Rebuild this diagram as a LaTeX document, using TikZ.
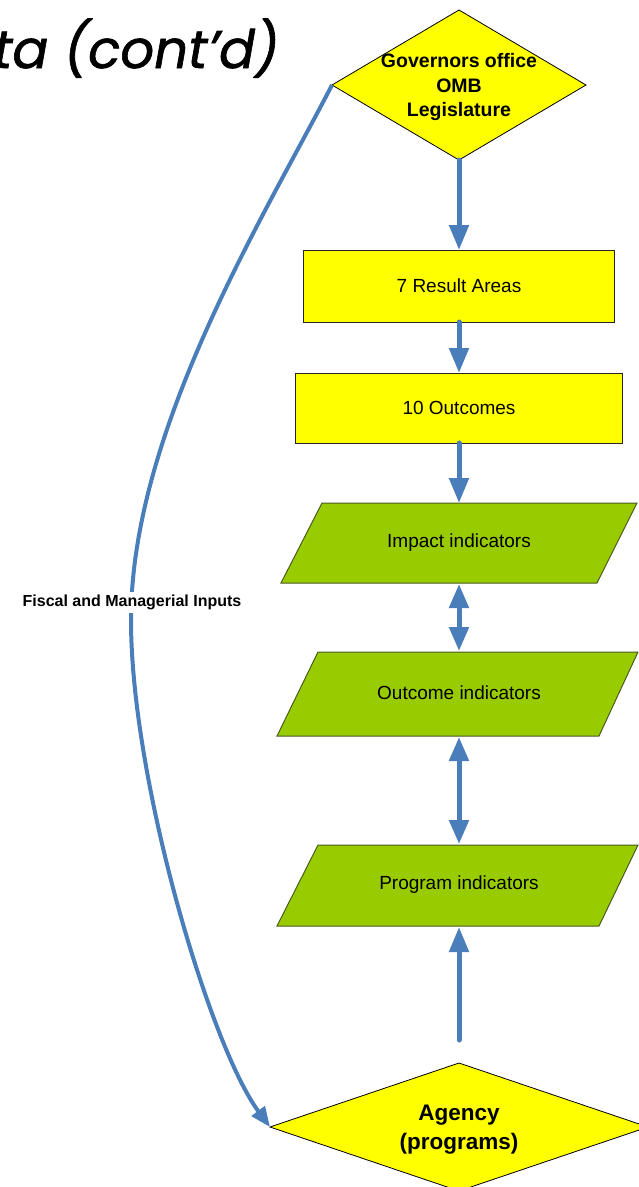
\documentclass[tikz,border=0pt]{standalone}
\usepackage{fontspec}
\setmainfont{Liberation Sans}
\newfontfamily\titlefont{Poppins}[FakeBold=1.2]
\usetikzlibrary{shapes.geometric,arrows.meta}
\definecolor{flowblue}{HTML}{4A7EBB}
\definecolor{boxyellow}{HTML}{FFFF00}
\definecolor{boxgreen}{HTML}{99CC00}
\definecolor{greenedge}{HTML}{4B5A1E}
\begin{document}
\begin{tikzpicture}[x=1pt,y=-1pt,
  ydiamond/.style={diamond, draw=black, line width=0.8pt, fill=boxyellow, inner sep=0pt, outer sep=0pt},
  ybox/.style={rectangle, draw=black!85, line width=1pt, fill=boxyellow, inner sep=0pt, outer sep=0pt, font=\fontsize{19}{23}\selectfont},
  gpar/.style={draw=greenedge, line width=1pt, fill=boxgreen},
  lbl/.style={font=\fontsize{19}{23}\selectfont, text=black},
  flow/.style={draw=flowblue, line width=5pt, line cap=round, -{Triangle[length=25pt,width=19pt]}},
  flowtwo/.style={draw=flowblue, line width=5pt, {Triangle[length=24pt,width=19pt]}-{Triangle[length=24pt,width=19pt]}},
  flowcurve/.style={draw=flowblue, line width=4pt, -{Triangle[length=20pt,width=16pt]}},
]
\useasboundingbox (0,0) rectangle (639,1187);
\node[anchor=base west, font=\titlefont\itshape\fontsize{53}{63}\selectfont, inner sep=0pt] (title) at (-7,68) {ta (cont’d)};

% top diamond
\node[ydiamond, minimum width=254pt, minimum height=150pt] (gov) at (459,85) {};
\node[font=\bfseries\fontsize{19.5}{24.5}\selectfont, align=center] (govt) at (459,87) {Governors office\\OMB\\Legislature};

% boxes
\node[ybox, minimum width=311pt, minimum height=72pt] (ra) at (459,286) {7 Result Areas};
\node[ybox, minimum width=327pt, minimum height=70pt] (oc) at (459,408) {10 Outcomes};

% parallelograms
\path[gpar] (322,503) -- (637,503) -- (597,583) -- (281,583) -- cycle;
\node[lbl] (imp) at (459,543) {Impact indicators};
\coordinate (impn) at (459,503);
\coordinate (imps) at (459,584);

\path[gpar] (318,652) -- (638,652) -- (599,736) -- (277,736) -- cycle;
\node[lbl] (out) at (459,693) {Outcome indicators};
\coordinate (outn) at (459,651);
\coordinate (outs) at (459,737);

\path[gpar] (318,845) -- (638,845) -- (599,926) -- (277,926) -- cycle;
\node[lbl] (prg) at (459,885) {Program indicators};
\coordinate (prgn) at (459,844);
\coordinate (prgs) at (459,927);

% bottom diamond
\node[ydiamond, minimum width=378pt, minimum height=128pt] (ag) at (459,1127) {};
\node[font=\bfseries\fontsize{22.5}{29}\selectfont, align=center] (agt) at (459,1130) {Agency\\(programs)};
\coordinate (agtail) at (459,1040);

% connectors
\draw[flow] (gov.south) -- (ra.north);
\draw[flow] (ra.south) -- (oc.north);
\draw[flow] (oc.south) -- (impn);
\draw[flowtwo] (imps) -- (outn);
\draw[flowtwo] (outs) -- (prgn);
\draw[flow] (agtail) -- (prgs);

\draw[flowcurve] (gov.west) .. controls (265,215) and (131,430) .. (131,620)
  .. controls (131,780) and (210,1046) .. (ag.west);
\node[fill=white, inner ysep=3pt, inner xsep=0pt, font=\bfseries\fontsize{16}{19}\selectfont] (fis) at (132,602) {Fiscal and Managerial Inputs};
\end{tikzpicture}
\end{document}
